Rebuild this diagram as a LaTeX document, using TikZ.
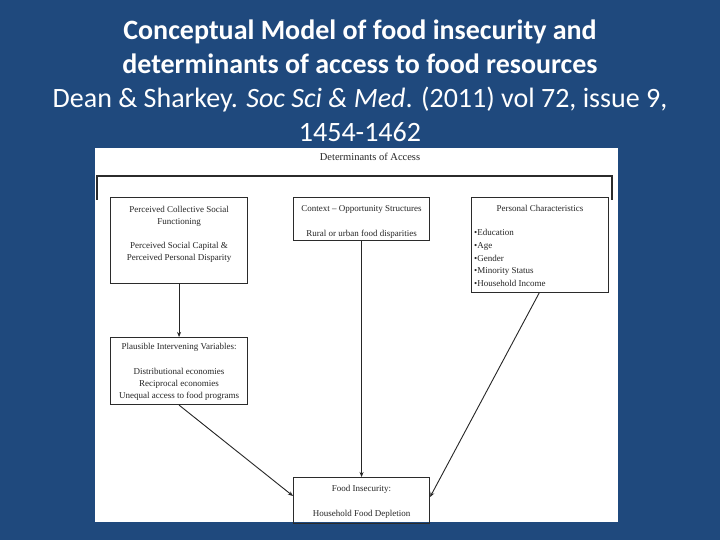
\documentclass[tikz,border=0pt]{standalone}
\usepackage{fontspec}
\setmainfont{Liberation Serif}
\newfontfamily\slidefont{Carlito}
\usepackage{tikz}
\usetikzlibrary{positioning,arrows.meta}
\definecolor{slideblue}{HTML}{1F497D}
\definecolor{boxline}{HTML}{2B2B2B}

\begin{document}
\begin{tikzpicture}[x=1pt,y=-1pt,
    box/.style={rectangle, draw=boxline, line width=1.1pt, anchor=north west, inner sep=0pt},
    txt/.style={align=center, font=\fontsize{9}{12}\selectfont, inner sep=0pt, text=black!85},
    link/.style={draw=black!85, line width=0.9pt, -{Stealth[length=5pt,width=4pt]}}]
		% Slide
		\useasboundingbox (0,0) rectangle (720,540);
		\fill [slideblue] (0,0) rectangle (720,540);
		\fill [white] (95,148) rectangle (618,522);
		\node [anchor=north, align=center, text=white, inner sep=0pt,
		       font=\slidefont\fontsize{28}{34}\selectfont] (title) at (360,20)
		      {\textbf{Conceptual Model of food insecurity and}\\
		       \textbf{determinants of access to food resources}\\
		       Dean \& Sharkey. \textit{Soc Sci \& Med}. (2011) vol 72, issue 9,\\
		       1454-1462};
		
		% Frame
		\node [txt, font=\fontsize{10.5}{12}\selectfont] (access) at (370,157) {Determinants of Access};
		\draw [boxline, line width=1.1pt] (97,200) -- (97,176) -- (612,176) -- (612,200);
		
		% Boxes
		\node [box, minimum width=137pt, minimum height=86pt] (social) at (110,197) {};
		\node [txt, below=9pt of social.north] (socialtxt)
		      {Perceived Collective Social\\Functioning\\[12pt]Perceived Social Capital \&\\Perceived Personal Disparity};
		\node [box, minimum width=136pt, minimum height=43pt] (context) at (293,197) {};
		\node [txt, below=8pt of context.north] (contexttxt)
		      {Context -- Opportunity Structures\\[13pt]Rural or urban food disparities};
		\node [box, minimum width=137pt, minimum height=95pt] (personal) at (471,197) {};
		\node [txt, below=8pt of personal.north] (personaltxt) {Personal Characteristics};
		\node [txt, align=left, font=\fontsize{9}{12.6}\selectfont, anchor=north west] (personallist) at (474,229.5)
		      {•Education\\•Age\\•Gender\\•Minority Status\\•Household Income};
		\node [box, minimum width=137pt, minimum height=67pt] (plausible) at (110,337) {};
		\node [txt, below=6pt of plausible.north] (plausibletxt)
		      {Plausible Intervening Variables:\\[13.5pt]Distributional economies\\Reciprocal economies\\Unequal access to food programs};
		\node [box, minimum width=136pt, minimum height=46pt] (food) at (293,477) {};
		\node [txt, below=8pt of food.north] (foodtxt) {Food Insecurity:\\[13pt]Household Food Depletion};
		
		% Arrows
		\draw [link] (social.south) -- (plausible.north);
		\draw [link] (context.south) -- (food.north);
		\draw [link] (plausible.south) -- ([yshift=-19pt]food.north west);
		\draw [link] ([xshift=-70pt]personal.south east) -- ([yshift=-20pt]food.north east);
	\end{tikzpicture}
\end{document}
